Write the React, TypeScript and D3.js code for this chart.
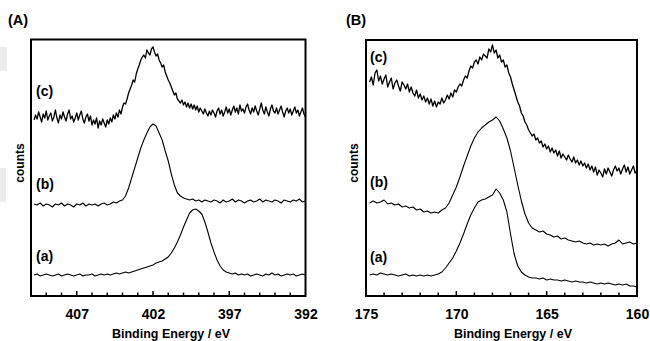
import React, { useEffect, useRef } from 'react';
import * as d3 from 'd3';

const WIDTH = 650;
const HEIGHT = 341;

// Panel A (N 1s). Curves (a), (b): 409.8 eV onward, 0.2 eV step. Curve (c): 0.1 eV step.
const nStart = 409.8;
const nCountsA = [
  21, 22, 20, 21, 22, 21, 20, 21, 22, 20, 21, 22, 21, 20, 21, 22, 20, 21, 21, 22,
  20, 21, 22, 21, 22, 21, 22, 23, 22, 23, 24, 23, 24, 25, 26, 27, 28, 29, 30, 31,
  33, 34, 35, 37, 39, 43, 48, 54, 61, 69, 76, 83, 86, 87, 85, 82, 74, 64, 53, 44,
  36, 30, 26, 24, 23, 22, 23, 21, 22, 21, 22, 20, 21, 22, 21, 20, 22, 21, 23, 21,
  22, 20, 21, 22, 21, 22, 20, 21, 22, 21,
];
const nCountsB = [
  92, 91, 93, 90, 92, 91, 89, 92, 91, 93, 90, 92, 91, 89, 92, 91, 93, 90, 92, 91,
  92, 90, 92, 93, 91, 92, 94, 93, 95, 96, 100, 108, 118, 128, 138, 148, 156, 163, 169, 172,
  170, 163, 156, 145, 135, 122, 111, 103, 100, 98, 97, 96, 97, 95, 96, 94, 96, 95, 94, 96,
  95, 93, 96, 94, 95, 97, 94, 96, 95, 93, 95, 96, 94, 95, 97, 94, 96, 95, 94, 96,
  95, 93, 96, 95, 94, 96, 95, 97, 94, 95,
];
const nCountsC = [
  176, 181, 177, 184, 179, 174, 182, 178, 185, 176, 180, 183, 175, 179, 186, 178, 173, 181, 177, 184,
  179, 175, 182, 186, 177, 180, 174, 178, 183, 176, 181, 185, 177, 173, 179, 182, 175, 180, 171, 176,
  172, 178, 168, 175, 171, 177, 173, 169, 176, 172, 178, 174, 181, 177, 183, 179, 186, 182, 189, 193,
  192, 197, 203, 207, 211, 216, 214, 222, 227, 231, 236, 239, 241, 238, 246, 243, 241, 247, 249, 244,
  240, 242, 236, 233, 229, 231, 224, 220, 216, 213, 209, 205, 201, 203, 197, 195, 193, 196, 191, 194,
  189, 193, 188, 192, 187, 191, 186, 190, 184, 188, 185, 182, 187, 183, 180, 185, 181, 186, 183, 179,
  185, 188, 182, 186, 180, 184, 189, 183, 187, 181, 186, 190, 184, 188, 182, 191, 185, 187, 183, 189,
  192, 186, 182, 188, 184, 190, 185, 181, 187, 193, 186, 182, 189, 184, 180, 187, 191, 185, 183, 188,
  182, 186, 190, 184, 179, 185, 188, 183, 187, 181, 185, 189, 183, 186, 180, 184, 188, 182, 179,
];

// Panel B (S 2p). Curves (a), (b): 174.8 eV onward, 0.2 eV step. Curve (c): 0.1 eV step.
const sStart = 174.8;
const sCountsA = [
  21, 22, 21, 23, 22, 21, 22, 21, 20, 21, 22, 20, 21, 20, 21, 20, 21, 20, 21, 22,
  24, 28, 33, 38, 45, 53, 62, 72, 81, 88, 94, 96, 97, 99, 101, 107, 103, 96, 84, 62,
  42, 30, 24, 21, 19, 18, 18, 17, 18, 16, 17, 16, 16, 15, 16, 15, 14, 15, 14, 14,
  13, 14, 13, 12, 13, 12, 13, 12, 11, 12, 11, 12, 10, 10, 9,
];
const sCountsB = [
  93, 95, 93, 94, 96, 92, 93, 91, 92, 89, 90, 88, 89, 86, 87, 84, 85, 83, 84, 83,
  86, 88, 93, 101, 109, 119, 130, 140, 150, 158, 164, 168, 171, 174, 176, 179, 175, 167, 158, 145,
  128, 111, 95, 82, 73, 68, 66, 64, 65, 62, 61, 59, 60, 57, 58, 56, 55, 54, 55, 53,
  52, 53, 51, 52, 51, 52, 50, 52, 53, 56, 52, 53, 54, 52, 53,
];
const sCountsC = [
  214, 219, 211, 223, 226, 215, 220, 212, 217, 221, 209, 214, 218, 207, 213, 216, 210, 205, 214, 211,
  207, 212, 204, 209, 203, 200, 206, 198, 202, 196, 200, 194, 198, 192, 197, 190, 195, 189, 194, 192,
  198, 193, 196, 201, 197, 203, 199, 206, 204, 209, 212, 210, 216, 220, 218, 225, 230, 228, 234, 236,
  232, 239, 236, 242, 240, 238, 247, 244, 251, 243, 246, 238, 241, 234, 236, 229, 231, 223, 219, 212,
  206, 200, 194, 190, 183, 180, 174, 171, 166, 163, 160, 162, 156, 158, 153, 155, 149, 152, 147, 150,
  144, 148, 143, 146, 140, 145, 138, 142, 139, 136, 141, 137, 134, 139, 133, 136, 131, 135, 130, 133,
  128, 132, 126, 130, 124, 129, 121, 126, 123, 119, 127, 122, 128, 124, 120, 126, 130, 125, 128, 122,
  127, 131, 124, 129, 122, 126, 130, 123, 125,
];

const nTickLabels = [407, 402, 397, 392];
const sTickLabels = [175, 170, 165, 160];
const curveNames = ['(a)', '(b)', '(c)'];

const FONT = '"Liberation Sans", Arial, Helvetica, sans-serif';

interface Curve {
  values: number[];
  start: number;
  step: number;
  width: number;
}

interface Panel {
  tag: string;
  tagX: number;
  domain: [number, number];
  left: number;
  right: number;
  top: number;
  curves: Curve[];
  tickLabels: number[];
  countsX: number;
  titleX: number;
  nameX: number;
  nameY: number[];
}

const panels: Panel[] = [
  {
    tag: '(A)', tagX: 8, domain: [410, 392], left: 31, right: 305.5, top: 39.5,
    curves: [
      { values: nCountsA, start: nStart, step: 0.2, width: 1.1 },
      { values: nCountsB, start: nStart, step: 0.2, width: 1.1 },
      { values: nCountsC, start: nStart, step: 0.1, width: 1.3 },
    ],
    tickLabels: nTickLabels, countsX: 24, titleX: 171, nameX: 36, nameY: [260.5, 188.5, 96],
  },
  {
    tag: '(B)', tagX: 346, domain: [175, 160], left: 366, right: 637, top: 40,
    curves: [
      { values: sCountsA, start: sStart, step: 0.2, width: 1.1 },
      { values: sCountsB, start: sStart, step: 0.2, width: 1.1 },
      { values: sCountsC, start: sStart, step: 0.1, width: 1.3 },
    ],
    tickLabels: sTickLabels, countsX: 358, titleX: 513, nameX: 370, nameY: [262, 187, 62],
  },
];

const BOTTOM = 296;

export default function App() {
  const svgRef = useRef<SVGSVGElement>(null);

  useEffect(() => {
    if (!svgRef.current) return;
    const svg = d3.select(svgRef.current);
    svg.selectAll('*').remove();

    // faint scan artefacts at the left page edge
    svg.append('rect').attr('x', 0).attr('y', 47).attr('width', 7).attr('height', 24).attr('fill', '#ececec');
    svg.append('rect').attr('x', 0).attr('y', 168).attr('width', 6).attr('height', 34).attr('fill', '#ececec');

    panels.forEach((p) => {
      const g = svg.append('g');
      const x = d3.scaleLinear().domain(p.domain).range([p.left, p.right]);
      const y = d3.scaleLinear().domain([0, 256]).range([BOTTOM, 40]);

      // spectra
      p.curves.forEach((c) => {
        const line = d3.line<number>()
          .x((_, i) => x(c.start - i * c.step))
          .y((d) => y(d));
        g.append('path')
          .attr('d', line(c.values) || '')
          .attr('fill', 'none')
          .attr('stroke', '#000')
          .attr('stroke-width', c.width)
          .attr('stroke-linejoin', 'round');
      });

      // inner ticks, one per eV, longer at labelled values
      const lo = Math.min(...p.domain);
      const hi = Math.max(...p.domain);
      d3.range(lo + 1, hi).forEach((v) => {
        const major = p.tickLabels.includes(v);
        g.append('line')
          .attr('x1', x(v)).attr('x2', x(v))
          .attr('y1', BOTTOM).attr('y2', BOTTOM - (major ? 5 : 3.5))
          .attr('stroke', '#000').attr('stroke-width', 1.5);
      });

      // tick labels
      const axis = g.append('g')
        .attr('transform', `translate(0,${BOTTOM})`)
        .call(d3.axisBottom(x).tickValues(p.tickLabels).tickSize(0).tickPadding(13).tickFormat(d3.format('d')));
      axis.select('.domain').remove();
      axis.selectAll('text')
        .attr('font-family', FONT)
        .attr('font-size', 14)
        .attr('font-weight', 'bold')
        .attr('fill', '#000');

      // frame
      g.append('rect')
        .attr('x', p.left).attr('y', p.top)
        .attr('width', p.right - p.left).attr('height', BOTTOM - p.top)
        .attr('fill', 'none').attr('stroke', '#000').attr('stroke-width', 2);

      // texts
      const text = (t: string, tx: number, ty: number, size: number, anchor = 'start') =>
        g.append('text')
          .attr('x', tx).attr('y', ty)
          .attr('font-family', FONT).attr('font-size', size).attr('font-weight', 'bold')
          .attr('text-anchor', anchor).attr('fill', '#000')
          .text(t);

      text(p.tag, p.tagX, 25, 14.5);
      text('Binding Energy / eV', p.titleX, 338, 12.5, 'middle');
      text('counts', 0, 0, 12, 'middle')
        .attr('transform', `translate(${p.countsX},163) rotate(-90)`);
      curveNames.forEach((n, k) => text(n, p.nameX, p.nameY[k], 14));
    });
  }, []);

  return (
    <svg
      ref={svgRef}
      width={WIDTH}
      height={HEIGHT}
      style={{ position: 'absolute', left: 0, top: 0, background: '#fff' }}
    />
  );
}
